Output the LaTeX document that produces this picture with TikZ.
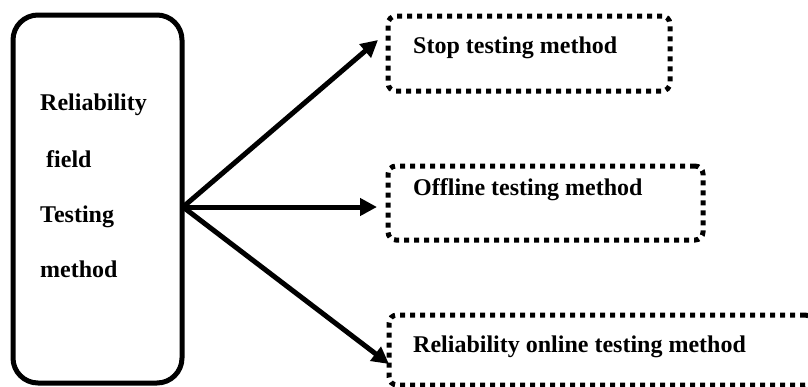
\documentclass[tikz,border=0pt]{standalone}
\usepackage{fontspec}
\setmainfont{Liberation Serif}
\usetikzlibrary{arrows.meta}
\tikzset{
  mainbox/.style={draw=black, line width=5pt, rounded corners=25pt, inner sep=0pt},
  dotbox/.style={draw=black, line width=5pt, dash pattern=on 5pt off 5pt,
                 rounded corners=8pt, inner sep=0pt},
  label/.style={anchor=base west, inner sep=0pt,
                font=\fontsize{24pt}{28pt}\selectfont\bfseries},
  arr/.style={line width=5pt, -{Triangle[length=17pt,width=17pt]}}
}
\begin{document}
\begin{tikzpicture}[x=1pt,y=-1pt]
  \useasboundingbox (0,0) rectangle (808,386);
  \clip (0,0) rectangle (808,386);
  % main category box
  \node[mainbox, minimum width=169pt, minimum height=368pt] (main) at (97.5,199) {};
  \node[label] (t1) at (40,110) {Reliability};
  \node[label] (t2) at (40,167) {\ field};
  \node[label] (t3) at (40,222) {Testing};
  \node[label] (t4) at (40,277) {method};
  % method boxes
  \node[dotbox, minimum width=282pt, minimum height=75pt] (b1) at (529,53.5) {};
  \node[dotbox, minimum width=315pt, minimum height=74pt] (b2) at (545.5,203) {};
  \node[dotbox, minimum width=424pt, minimum height=70pt] (b3) at (601,350) {};
  \node[label] (l1) at (413,53) {Stop testing method};
  \node[label] (l2) at (413,195) {Offline testing method};
  \node[label] (l3) at (413,352) {Reliability online testing method};
  % arrow origin and tips
  \coordinate (src) at (183,207);
  \coordinate (e1) at (378,40);
  \coordinate (e2) at (377,207);
  \coordinate (e3) at (389,364);
  \draw[arr] (src) -- (e1);
  \draw[arr] (src) -- (e2);
  \draw[arr] (src) -- (e3);
\end{tikzpicture}
\end{document}
